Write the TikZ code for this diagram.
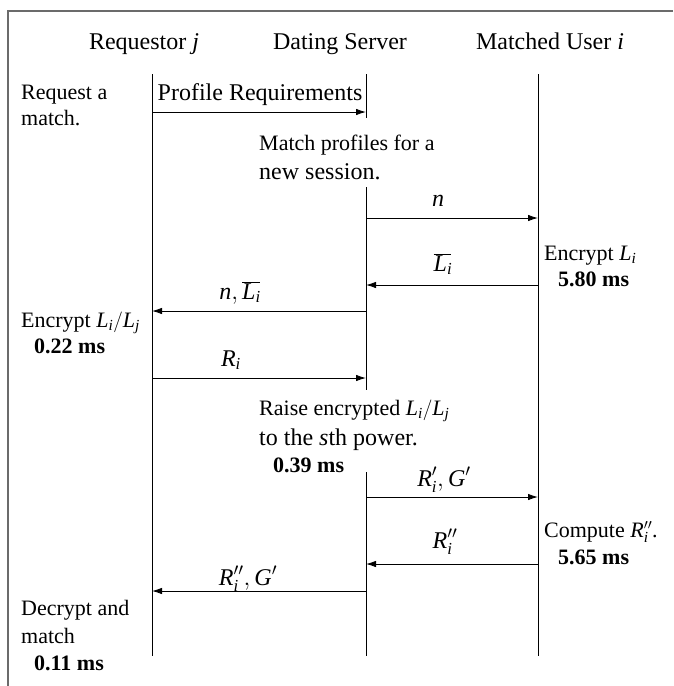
\documentclass[tikz,border=0pt]{standalone}
\usepackage{fontspec}
\setmainfont{Liberation Serif}
\usetikzlibrary{arrows.meta}
\newcommand{\vi}[1]{\mathit{#1}}
\newcommand{\cm}{\mathpunct{\mathrm{,}}}
\newcommand{\barL}{{\overline{\vi{L}\mkern3mu}\mkern-3mu}}
\tikzset{
  lifeline/.style={line width=0.9pt},
  msg/.style={line width=0.9pt, -{Latex[length=10pt,width=6.5pt]}},
  frameline/.style={line width=2pt, draw=black!58},
  hdr/.style={font=\fontsize{24}{28}\selectfont, anchor=base, inner sep=0pt},
  note/.style={font=\fontsize{22}{26}\selectfont, anchor=base west, inner sep=0pt},
  notebig/.style={font=\fontsize{24}{28}\selectfont, anchor=base west, inner sep=0pt},
  timing/.style={font=\fontsize{22}{26}\selectfont\bfseries, anchor=base west, inner sep=0pt},
  lbl/.style={font=\fontsize{24}{28}\selectfont, anchor=base, inner sep=0pt},
}
\begin{document}
\begin{tikzpicture}[x=1pt,y=-1pt]
\useasboundingbox (0,0) rectangle (673,686);
% frame (only top and left edges visible)
\coordinate (fTR) at (673,11);
\coordinate (fTL) at (8,11);
\coordinate (fBL) at (8,686);
\draw[frameline] (fTR) -- (fTL) -- (fBL);

% headers
\node[hdr] (hR) at (144,49) {Requestor $\vi{j}$};
\node[hdr] (hS) at (340,49) {Dating Server};
\node[hdr] (hU) at (550,49) {Matched User $\vi{i}$};

% lifelines
\coordinate (Rtop) at (152,74);  \coordinate (Rbot) at (152,656);
\coordinate (Utop) at (538,74);  \coordinate (Ubot) at (538,656);
\coordinate (Stop) at (366,74);  \coordinate (Sg1a) at (366,118);
\coordinate (Sg1b) at (366,187); \coordinate (Sg2a) at (366,390);
\coordinate (Sg2b) at (366,472); \coordinate (Sbot) at (366,656);
\draw[lifeline] (Rtop) -- (Rbot);
\draw[lifeline] (Utop) -- (Ubot);
\draw[lifeline] (Stop) -- (Sg1a) (Sg1b) -- (Sg2a) (Sg2b) -- (Sbot);

% message end points
\coordinate (m1a) at (152,112); \coordinate (m1b) at (366,112);
\coordinate (m2a) at (366,218); \coordinate (m2b) at (538,218);
\coordinate (m3a) at (538,285); \coordinate (m3b) at (366,285);
\coordinate (m4a) at (366,311); \coordinate (m4b) at (152,311);
\coordinate (m5a) at (152,378); \coordinate (m5b) at (366,378);
\coordinate (m6a) at (366,497); \coordinate (m6b) at (538,497);
\coordinate (m7a) at (538,564); \coordinate (m7b) at (366,564);
\coordinate (m8a) at (366,591); \coordinate (m8b) at (152,591);
\draw[msg] (m1a) -- (m1b);
\draw[msg] (m2a) -- (m2b);
\draw[msg] (m3a) -- (m3b);
\draw[msg] (m4a) -- (m4b);
\draw[msg] (m5a) -- (m5b);
\draw[msg] (m6a) -- (m6b);
\draw[msg] (m7a) -- (m7b);
\draw[msg] (m8a) -- (m8b);

% message labels
\node[lbl] (l1) at (260,100) {Profile Requirements};
\node[lbl] (l2) at (438,206) {$\vi{n}$};
\node[lbl] (l3) at (443,271) {$\barL_{\vi{i}}$};
\node[lbl] (l4) at (240,299) {$\vi{n}\cm\barL_{\vi{i}}$};
\node[lbl] (l5) at (231,366) {$\vi{R}_{\vi{i}}$};
\node[lbl] (l6) at (444,486) {$\vi{R}'_{\vi{i}}\cm\vi{G}'$};
\node[lbl] (l7) at (445,548) {$\vi{R}''_{\vi{i}}$};
\node[lbl] (l8) at (248,585) {$\vi{R}''_{\vi{i}}\cm\vi{G}'$};

% requestor notes
\node[note] (n1a) at (21,99) {Request a};
\node[note] (n1b) at (21,125) {match.};
\node[note] (n4a) at (21,327) {Encrypt $\vi{L}_{\vi{i}}/\vi{L}_{\vi{j}}$};
\node[timing] (n4b) at (34,353) {0.22 ms};
\node[note] (n8a) at (21,615) {Decrypt and};
\node[note] (n8b) at (21,643) {match};
\node[timing] (n8c) at (34,670) {0.11 ms};

% server notes
\node[note] (s1a) at (259,150) {Match profiles for a};
\node[notebig] (s1b) at (259,179) {new session.};
\node[note] (s5a) at (259,415) {Raise encrypted $\vi{L}_{\vi{i}}/\vi{L}_{\vi{j}}$};
\node[notebig] (s5b) at (259,445) {to the $\vi{s}$th power.};
\node[timing] (s5c) at (273,472) {0.39 ms};

% matched user notes
\node[note] (u3a) at (544,260) {Encrypt $\vi{L}_{\vi{i}}$};
\node[timing] (u3b) at (558,286) {5.80 ms};
\node[note] (u7a) at (544,537) {Compute $\vi{R}''_{\vi{i}}$.};
\node[timing] (u7b) at (558,564) {5.65 ms};
\end{tikzpicture}
\end{document}
